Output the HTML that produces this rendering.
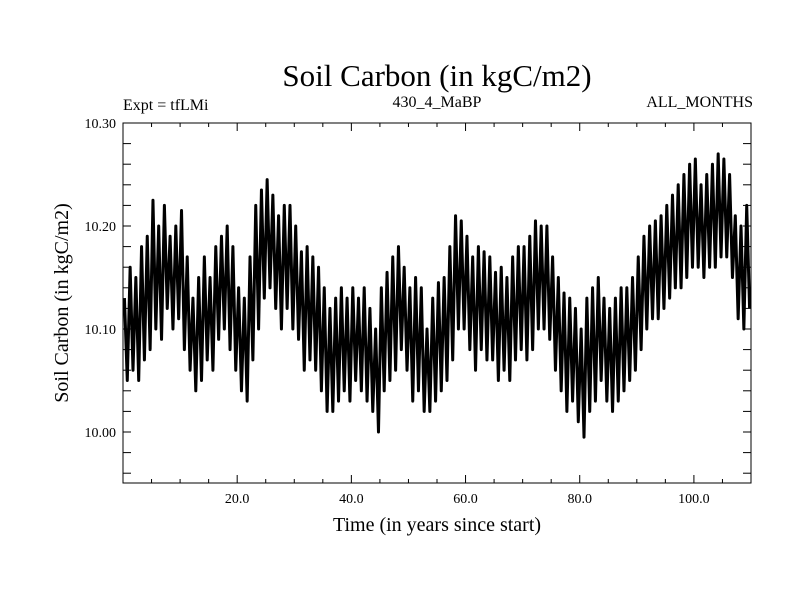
<!DOCTYPE html>
<html><head><meta charset="utf-8"><style>
body{margin:0;background:#fff;width:800px;height:600px;overflow:hidden}
svg text{font-family:"Liberation Serif",serif;fill:#000}
</style></head><body>
<svg id="c" width="800" height="600">
<text x="437" y="86" font-size="31" text-anchor="middle">Soil Carbon (in kgC/m2)</text>
<text x="123" y="110" font-size="16">Expt = tfLMi</text>
<text x="437" y="107" font-size="16" text-anchor="middle">430_4_MaBP</text>
<text x="753" y="107" font-size="16" text-anchor="end">ALL_MONTHS</text>
<text x="437" y="531" font-size="20" text-anchor="middle">Time (in years since start)</text>
<text transform="translate(68,303) rotate(-90)" font-size="20" text-anchor="middle">Soil Carbon (in kgC/m2)</text>
<g id="ticks"></g>
<g id="series"></g>
<rect x="123" y="123" width="628" height="360" fill="none" stroke="#000" stroke-width="1"/>
</svg>
<script>
const yearMax=[10.13,10.16,10.15,10.18,10.19,10.225,10.2,10.22,10.19,10.2,10.215,10.17,10.13,10.15,10.17,10.15,10.18,10.19,10.2,10.18,10.14,10.13,10.17,10.22,10.235,10.245,10.23,10.21,10.22,10.22,10.2,10.175,10.18,10.17,10.16,10.14,10.12,10.13,10.14,10.13,10.14,10.13,10.14,10.12,10.1,10.14,10.155,10.17,10.18,10.16,10.14,10.15,10.14,10.1,10.13,10.145,10.15,10.18,10.21,10.205,10.19,10.17,10.18,10.175,10.17,10.155,10.16,10.15,10.17,10.18,10.18,10.19,10.205,10.2,10.2,10.17,10.15,10.135,10.13,10.12,10.1,10.13,10.14,10.15,10.13,10.12,10.13,10.14,10.14,10.15,10.17,10.19,10.2,10.205,10.21,10.22,10.23,10.24,10.25,10.26,10.265,10.24,10.25,10.26,10.27,10.265,10.25,10.21,10.2,10.22];
const yearMin=[10.05,10.06,10.05,10.07,10.08,10.1,10.09,10.12,10.1,10.11,10.08,10.06,10.04,10.05,10.07,10.06,10.09,10.1,10.08,10.06,10.04,10.03,10.07,10.1,10.13,10.14,10.12,10.1,10.12,10.1,10.09,10.06,10.07,10.06,10.04,10.02,10.02,10.03,10.04,10.03,10.05,10.04,10.03,10.02,10.0,10.04,10.05,10.06,10.08,10.06,10.03,10.04,10.02,10.02,10.03,10.04,10.05,10.07,10.1,10.1,10.08,10.06,10.08,10.07,10.07,10.05,10.06,10.05,10.07,10.08,10.07,10.08,10.1,10.1,10.09,10.06,10.04,10.02,10.03,10.01,9.995,10.02,10.03,10.05,10.03,10.02,10.03,10.04,10.05,10.06,10.08,10.1,10.11,10.11,10.12,10.13,10.14,10.14,10.15,10.16,10.16,10.15,10.16,10.16,10.17,10.17,10.15,10.11,10.1,10.12];
const xTickLabels=["20.0","40.0","60.0","80.0","100.0"];
const yTickLabels=["10.00","10.10","10.20","10.30"];
const NS='http://www.w3.org/2000/svg';
const X0=123,X1=751,Y0=483,Y1=123;
function sx(t){return X0+(t)/110*(X1-X0);}
function sy(v){return 432-(v-10.0)*1030;}
const tk=document.getElementById('ticks');
function line(x1,y1,x2,y2,n){const l=document.createElementNS(NS,'line');l.setAttribute('x1',x1);l.setAttribute('y1',y1);l.setAttribute('x2',x2);l.setAttribute('y2',y2);l.setAttribute('stroke','#000');


tk.appendChild(l);}
for(let t=5;t<110;t+=5){const L=(t%20===0)?8:4;line(sx(t),Y0,sx(t),Y0-L,'x-tick');line(sx(t),Y1,sx(t),Y1+L,'x-tick-top');}
for(let i=0;i<=17;i++){const v=9.96+i*0.02;const y=sy(v);if(y<Y1-1||y>Y0+1)continue;line(X0,y,X0+8,y,'y-tick');line(X1,y,X1-8,y,'y-tick-right');}
xTickLabels.forEach(s=>{const t=document.createElementNS(NS,'text');t.setAttribute('x',sx(parseFloat(s)));t.setAttribute('y',503);t.setAttribute('font-size','14');t.setAttribute('text-anchor','middle');t.textContent=s;


tk.appendChild(t);});
yTickLabels.forEach(s=>{const t=document.createElementNS(NS,'text');t.setAttribute('x',116);t.setAttribute('y',sy(parseFloat(s))+5);t.setAttribute('font-size','14');t.setAttribute('text-anchor','end');t.textContent=s;


tk.appendChild(t);});
let pts=[];
for(let i=0;i<yearMax.length;i++){pts.push(sx(i+0.25).toFixed(2)+','+sy(yearMax[i]).toFixed(2));pts.push(sx(i+0.75).toFixed(2)+','+sy(yearMin[i]).toFixed(2));}
const p=document.createElementNS(NS,'polyline');p.setAttribute('points',pts.join(' '));p.setAttribute('fill','none');p.setAttribute('stroke','#000');p.setAttribute('stroke-width','3');p.setAttribute('stroke-linejoin','round');


document.getElementById('series').appendChild(p);
</script>
</body></html>
